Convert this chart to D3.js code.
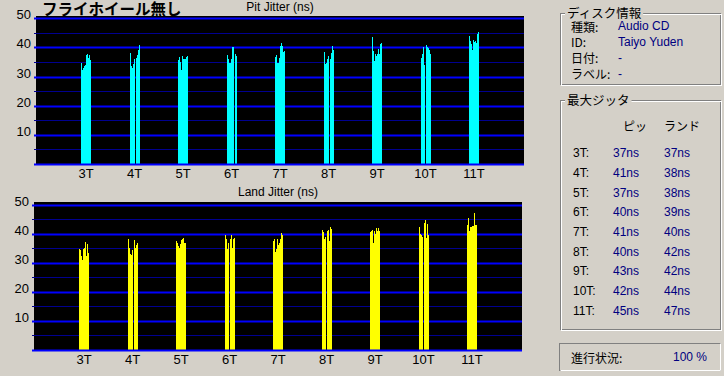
<!DOCTYPE html>
<html>
<head>
<meta charset="utf-8">
<script src="https://cdn.jsdelivr.net/npm/d3@7"></script>
<style>
  html, body { margin: 0; padding: 0; background: #d4d0c8; }
  svg { display: block; }
  text { font-family: "Liberation Sans", Arial, sans-serif; }
  .jp { font-family: "Noto Sans CJK JP", sans-serif; }
</style>
</head>
<body>
<svg id="chart" width="724" height="376"></svg>
<script>
// categories (run lengths)
var categories = ["3T", "4T", "5T", "6T", "7T", "8T", "9T", "10T", "11T"];

// samples per category (0 = no sample drawn)
var pitJitter = [
    [34.6, 32.4, 32.8, 33.8, 34.1, 37.3, 37.6, 36.4, 37.3, 35.6],
    [38.0, 33.6, 33.0, 34.3, 36.0, 0, 36.3, 37.5, 39.0, 40.8],
    [35.6, 36.6, 35.0, 32.3, 37.0, 36.1, 35.9, 36.2, 36.6, 37.0],
    [37.4, 35.9, 34.5, 34.5, 35.9, 40.2, 40.0, 0, 37.6, 37.2],
    [36.8, 37.4, 34.5, 34.8, 36.3, 40.5, 41.4, 40.5, 38.5, 38.7],
    [38.4, 34.4, 34.7, 36.0, 37.0, 0, 36.2, 38.0, 40.4, 39.1],
    [43.5, 38.7, 35.4, 37.6, 37.2, 37.6, 39.3, 37.6, 41.1, 41.5],
    [36.3, 37.7, 40.1, 33.9, 0, 40.8, 40.2, 39.7, 39.0, 37.8],
    [43.9, 42.2, 41.1, 39.1, 42.5, 41.8, 42.1, 41.6, 44.5, 45.3]
];
var landJitter = [
    [34.8, 34.5, 32.3, 30.9, 34.8, 35.1, 37.2, 32.4, 36.5, 33.5],
    [38.3, 35.2, 32.9, 32.5, 34.5, 0, 37.7, 35.1, 36.0, 36.9],
    [37.6, 36.9, 35.6, 35.1, 36.4, 37.7, 38.3, 38.6, 36.9, 36.9],
    [39.4, 38.3, 34.8, 36.9, 0, 38.3, 39.4, 35.1, 38.3, 38.5],
    [37.4, 38.0, 33.7, 34.6, 38.0, 36.0, 36.6, 38.3, 40.3, 39.4],
    [41.1, 40.6, 38.0, 38.8, 0, 40.9, 41.4, 37.5, 42.2, 41.7],
    [40.6, 40.9, 41.1, 36.9, 40.8, 40.0, 42.0, 40.8, 42.0, 40.9],
    [42.3, 39.8, 39.4, 38.8, 0, 43.7, 44.6, 38.6, 43.4, 39.4],
    [42.9, 45.2, 40.9, 42.3, 42.3, 42.5, 42.5, 47.0, 43.1, 43.1]
];

var yLabelTicks = [10, 20, 30, 40, 50];
var gridTicks = [5, 10, 15, 20, 25, 30, 35, 40, 45, 50];

// side panel
var diskLabels = ["種類:", "ID:", "日付:", "ラベル:"];
var diskValues = ["Audio CD", "Taiyo Yuden", "-", "-"];
var maxPit = [37, 41, 37, 40, 41, 40, 43, 42, 45];
var maxLand = [37, 38, 38, 39, 40, 42, 42, 44, 47];
var progress = 100;

var svg = d3.select('#chart');

// one jitter chart
function drawJitter(opt) {
    var g = svg.append('g');

    var x = d3.scaleLinear().domain([-1, categories.length]).range([opt.left + 1.5, opt.right - 1.5]);
    var y = d3.scaleLinear().domain([0, 50]).range([opt.zero, opt.fifty]);
    // a cluster of samples, one pixel each
    var sx = d3.scaleBand().domain(d3.range(10)).range([-5, 5]);

    g.append('rect')
        .attr('x', opt.left).attr('y', opt.top)
        .attr('width', opt.right - opt.left).attr('height', opt.bottom - opt.top)
        .attr('fill', '#000');

    g.selectAll('.grid')
        .data(gridTicks)
        .enter().append('line')
        .attr('x1', opt.left - 2).attr('x2', opt.right)
        .attr('y1', function(d) { return Math.round(y(d)) + 0.5; })
        .attr('y2', function(d) { return Math.round(y(d)) + 0.5; })
        .attr('stroke', function(d) { return d % 10 == 0 ? '#0000ff' : '#000090'; })
        .attr('stroke-width', function(d) { return d % 10 == 0 ? 2 : 1; });

    var clusters = g.selectAll('.cluster')
        .data(opt.data)
        .enter().append('g')
        .attr('transform', function(d, i) { return 'translate(' + Math.round(x(i)) + ',0)'; });

    clusters.selectAll('rect')
        .data(function(d) { return d; })
        .enter().append('rect')
        .attr('x', function(d, j) { return sx(j); })
        .attr('width', sx.bandwidth())
        .attr('y', function(d) { return y(d); })
        .attr('height', function(d) { return y(0) - y(d); })
        .attr('fill', opt.color)
        .attr('shape-rendering', 'crispEdges');

    // zero line
    g.append('line')
        .attr('x1', opt.left - 2).attr('x2', opt.right)
        .attr('y1', Math.round(y(0)) + 0.5).attr('y2', Math.round(y(0)) + 0.5)
        .attr('stroke', '#0000ff').attr('stroke-width', 2);

    g.selectAll('.ylab')
        .data(yLabelTicks)
        .enter().append('text')
        .attr('x', opt.left - 5)
        .attr('y', function(d) { return y(d) - 3.5; })
        .attr('text-anchor', 'end')
        .attr('dominant-baseline', 'central')
        .attr('font-size', 13)
        .text(function(d) { return d; });

    g.selectAll('.xlab')
        .data(categories)
        .enter().append('text')
        .attr('x', function(d, i) { return x(i); })
        .attr('y', opt.bottom + 8)
        .attr('text-anchor', 'middle')
        .attr('dominant-baseline', 'central')
        .attr('font-size', 13)
        .text(function(d) { return d; });

    g.append('text')
        .attr('x', opt.titleX).attr('y', opt.titleY)
        .attr('text-anchor', 'middle')
        .attr('dominant-baseline', 'central')
        .attr('font-size', 12)
        .text(opt.title);
}

drawJitter({ left: 36, right: 524, top: 16, bottom: 165, zero: 164, fifty: 18.3,
    data: pitJitter, color: '#00ffff', title: 'Pit Jitter (ns)', titleX: 280, titleY: 7 });
drawJitter({ left: 34, right: 522, top: 202, bottom: 351, zero: 350, fifty: 204.5,
    data: landJitter, color: '#ffff00', title: 'Land Jitter (ns)', titleX: 278, titleY: 191.5 });

// big title
svg.append('text')
    .attr('class', 'jp')
    .attr('x', 42).attr('y', 15)
    .attr('font-size', 15.5).attr('font-weight', 'bold')
    .text('フライホイール無し');

// etched group box
function groupBox(x0, y0, x1, y1, title) {
    svg.append('rect').attr('x', x0 + 0.5).attr('y', y0 + 0.5)
        .attr('width', x1 - x0 - 1).attr('height', y1 - y0 - 1)
        .attr('fill', 'none').attr('stroke', '#808080');
    svg.append('rect').attr('x', x0 + 1.5).attr('y', y0 + 1.5)
        .attr('width', x1 - x0 - 1).attr('height', y1 - y0 - 1)
        .attr('fill', 'none').attr('stroke', '#ffffff');
    var t = svg.append('text').attr('class', 'jp')
        .attr('x', x0 + 7).attr('y', y0 - 1)
        .attr('dominant-baseline', 'central')
        .attr('font-size', 12.5).text(title);
    var w = t.node().getComputedTextLength();
    svg.insert('rect', function() { return t.node(); })
        .attr('x', x0 + 5).attr('y', y0 - 2).attr('width', w + 4).attr('height', 5)
        .attr('fill', '#d4d0c8');
}

groupBox(560, 13, 721, 85, 'ディスク情報');
var diskY = d3.scaleLinear().domain([0, 3]).range([26, 73.5]);
diskLabels.forEach(function(d, i) {
    svg.append('text').attr('class', 'jp').attr('x', 571).attr('y', diskY(i))
        .attr('dominant-baseline', 'central').attr('font-size', 12).text(d);
    svg.append('text').attr('x', 618).attr('y', diskY(i))
        .attr('dominant-baseline', 'central').attr('font-size', 12)
        .attr('fill', '#000080').text(diskValues[i]);
});

groupBox(560, 100, 721, 330, '最大ジッタ');
svg.append('text').attr('class', 'jp').attr('x', 623).attr('y', 125)
    .attr('dominant-baseline', 'central').attr('font-size', 12).text('ピッ');
svg.append('text').attr('class', 'jp').attr('x', 664).attr('y', 125)
    .attr('dominant-baseline', 'central').attr('font-size', 12).text('ランド');

var rowY = d3.scaleLinear().domain([0, 8]).range([153.3, 310.5]);
categories.forEach(function(c, i) {
    svg.append('text').attr('x', 573).attr('y', rowY(i))
        .attr('dominant-baseline', 'central').attr('font-size', 12).text(c + ':');
    svg.append('text').attr('x', 613).attr('y', rowY(i))
        .attr('dominant-baseline', 'central').attr('font-size', 12)
        .attr('fill', '#000080').text(maxPit[i] + 'ns');
    svg.append('text').attr('x', 664).attr('y', rowY(i))
        .attr('dominant-baseline', 'central').attr('font-size', 12)
        .attr('fill', '#000080').text(maxLand[i] + 'ns');
});

// progress box (sunken)
svg.append('rect').attr('x', 559.5).attr('y', 343.5).attr('width', 161).attr('height', 27)
    .attr('fill', 'none').attr('stroke', '#808080');
svg.append('path').attr('d', 'M560.5,370.5 H720.5 V343.5')
    .attr('fill', 'none').attr('stroke', '#ffffff');
svg.append('text').attr('class', 'jp').attr('x', 571).attr('y', 357)
    .attr('dominant-baseline', 'central').attr('font-size', 12).text('進行状況:');
svg.append('text').attr('x', 707).attr('y', 357)
    .attr('text-anchor', 'end')
    .attr('dominant-baseline', 'central').attr('font-size', 12)
    .attr('fill', '#000080').text(progress + ' %');
</script>
</body>
</html>
